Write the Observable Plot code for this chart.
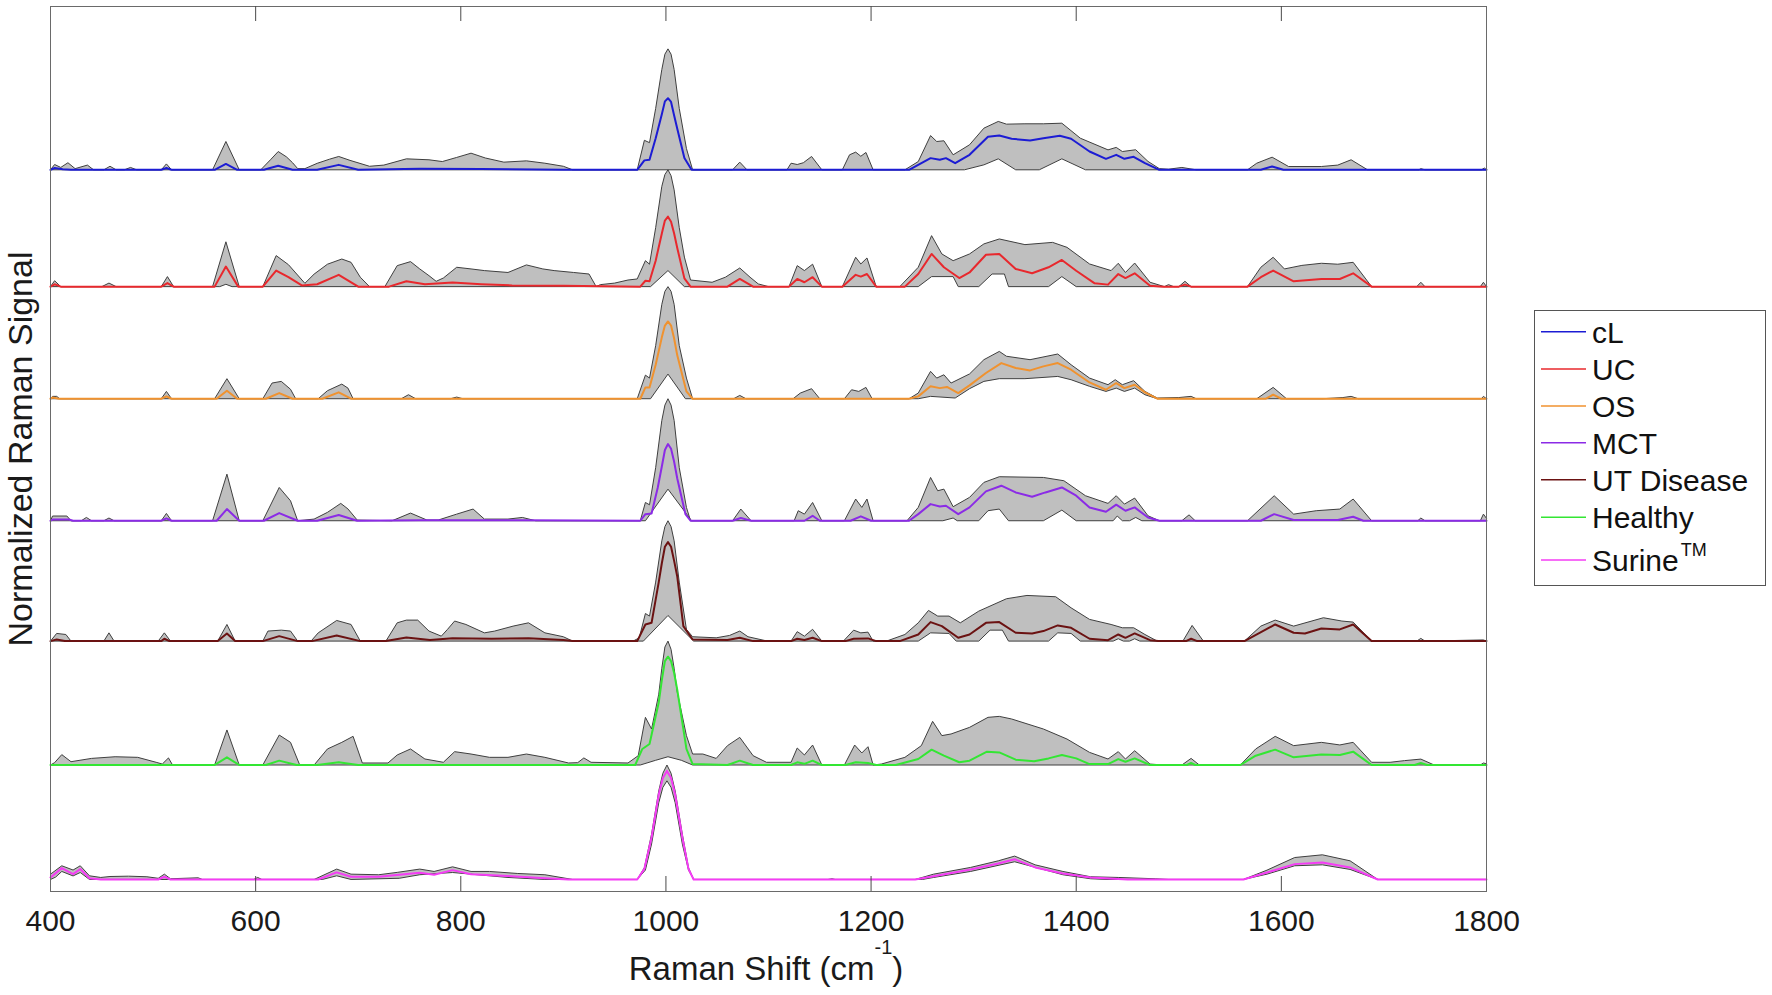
<!DOCTYPE html>
<html>
<head>
<meta charset="utf-8">
<script src="https://cdn.jsdelivr.net/npm/d3@7"></script>
<script src="https://cdn.jsdelivr.net/npm/@observablehq/plot@0.6"></script>
<style>
  body { margin: 0; background: #fff; }
  #wrap { position: relative; width: 1772px; height: 995px; font-family: "Liberation Sans", Arial, Helvetica, sans-serif; }
  #chart { position: absolute; left: 0; top: 0; }
  #legend { position: absolute; left: 1534px; top: 310px; }
</style>
</head>
<body>
<div id="wrap"><div id="chart"></div><div id="legend"></div></div>
<script>
// ---------- categories / styling lists ----------
const groups = ["cL", "UC", "OS", "MCT", "UT Disease", "Healthy", "Surine"];
const colors = ["#1c1cd4", "#e8282d", "#f0922f", "#8b2be6", "#6b1212", "#33e633", "#f53cf5"];
const stackOrder = ["Surine", "Healthy", "UT Disease", "MCT", "OS", "UC", "cL"]; // bottom -> top
const xTicks = [400, 600, 800, 1000, 1200, 1400, 1600, 1800];
const innerTicks = [600, 800, 1000, 1200, 1400, 1600];

// ---------- series values: [Raman shift, normalized signal] ----------
const cL_hi = [[400,0],[404,.045],[410,.02],[417,.06],[424,.01],[436,.04],[442,0],[452,0],[458,.03],[464,0],[472,0],[478,.02],[484,0],[508,0],[513,.05],[518,0],[558,0],[571,.24],[584,0],[605,0],[615,.09],[622,.155],[630,.11],[636,.06],[641,.01],[648,.01],[660,.055],[672,.09],[681,.113],[692,.08],[711,.03],[725,.04],[747,.093],[769,.085],[782,.07],[796,.105],[810,.141],[824,.1],[842,.065],[864,.076],[882,.056],[900,.03],[909,0],[972,0],[979,.25],[984,.23],[990,.52],[996,.85],[999,.98],[1002,1.025],[1005,.98],[1008,.85],[1013,.52],[1020,.18],[1026,0],[1065,0],[1072,.065],[1079,0],[1118,0],[1122,.056],[1128,.045],[1134,.06],[1142,.113],[1152,0],[1172,0],[1179,.127],[1185,.15],[1190,.115],[1195,.147],[1202,0],[1233,0],[1246,.07],[1258,.29],[1264,.24],[1271,.246],[1280,.127],[1296,.212],[1310,.353],[1324,.41],[1332,.387],[1350,.39],[1368,.39],[1386,.395],[1404,.268],[1431,.169],[1439,.19],[1445,.155],[1458,.17],[1470,.071],[1481,.01],[1490,.005],[1503,.02],[1510,.01],[1517,0],[1567,0],[1576,.056],[1591,.107],[1607,.028],[1639,.028],[1655,.04],[1668,.085],[1684,0],[1734,0],[1736,.01],[1740,0],[1795,0],[1798,.015],[1800,0]];
const cL_mean = [[400,0],[404,.015],[412,.005],[420,0],[508,0],[513,.015],[518,0],[560,0],[571,.05],[582,0],[608,0],[622,.034],[636,0],[660,0],[681,.042],[700,0],[760,.008],[820,.006],[900,0],[972,0],[979,.08],[984,.085],[990,.268],[996,.47],[999,.58],[1002,.607],[1005,.575],[1008,.46],[1011,.35],[1018,.1],[1025,0],[1237,0],[1258,.099],[1267,.085],[1273,.099],[1282,.056],[1296,.127],[1314,.28],[1325,.29],[1337,.263],[1355,.249],[1368,.268],[1384,.288],[1395,.263],[1413,.155],[1429,.093],[1439,.127],[1447,.093],[1456,.11],[1467,.056],[1481,0],[1580,0],[1591,.028],[1602,0],[1800,0]];
const cL_lo = [[400,0],[1291,0],[1310,.042],[1324,.093],[1341,0],[1364,0],[1386,.093],[1409,0],[1800,0]];

const UC_hi = [[400,0],[404,.05],[410,0],[450,0],[457,.03],[464,0],[508,0],[514,.085],[520,0],[558,0],[571,.38],[584,0],[607,0],[620,.263],[632,.186],[648,.028],[657,.106],[670,.19],[684,.234],[693,.206],[702,.08],[711,0],[726,0],[738,.178],[751,.212],[760,.15],[769,.093],[776,.045],[783,.073],[796,.164],[810,.15],[823,.136],[846,.12],[864,.184],[880,.15],[891,.136],[910,.12],[925,.107],[932,0],[936,.017],[950,.03],[963,.056],[972,.065],[980,.22],[984,.19],[990,.5],[996,.85],[999,.95],[1002,.99],[1005,.94],[1008,.82],[1013,.5],[1018,.25],[1024,.056],[1045,.037],[1058,.08],[1072,.158],[1082,.08],[1090,.023],[1100,0],[1120,0],[1128,.178],[1135,.136],[1143,.19],[1152,0],[1172,0],[1185,.249],[1190,.192],[1196,.243],[1205,0],[1228,0],[1246,.164],[1259,.432],[1269,.277],[1280,.22],[1296,.277],[1310,.362],[1325,.404],[1350,.356],[1377,.375],[1391,.333],[1413,.192],[1434,.136],[1441,.198],[1448,.12],[1457,.2],[1472,.037],[1486,0],[1490,.017],[1495,0],[1500,0],[1506,.045],[1512,0],[1567,0],[1580,.164],[1592,.249],[1603,.15],[1620,.18],[1639,.198],[1655,.19],[1670,.206],[1688,0],[1732,0],[1736,.037],[1740,0],[1794,0],[1797,.037],[1800,0]];
const UC_mean = [[400,0],[404,.02],[410,0],[508,0],[514,.03],[520,0],[560,0],[571,.17],[583,0],[607,0],[620,.136],[632,.08],[645,.01],[660,.02],[681,.1],[700,0],[730,0],[747,.045],[765,.02],[792,.034],[820,.02],[850,.01],[900,.008],[975,0],[980,.05],[984,.045],[990,.22],[996,.45],[999,.56],[1002,.593],[1005,.55],[1008,.45],[1011,.33],[1018,.07],[1024,0],[1060,0],[1072,.065],[1085,0],[1120,0],[1128,.065],[1135,.037],[1143,.08],[1152,0],[1172,0],[1185,.1],[1190,.085],[1196,.107],[1205,0],[1233,0],[1246,.107],[1259,.277],[1271,.164],[1286,.073],[1296,.12],[1312,.27],[1325,.277],[1341,.15],[1357,.113],[1373,.164],[1386,.226],[1400,.135],[1418,.028],[1431,.017],[1441,.107],[1448,.073],[1457,.113],[1472,.008],[1485,0],[1500,0],[1506,.017],[1512,0],[1567,0],[1580,.08],[1592,.136],[1612,.045],[1639,.065],[1657,.065],[1670,.113],[1688,0],[1800,0]];
const UC_lo = [[400,0],[565,0],[571,.02],[577,0],[985,0],[1002,.136],[1018,0],[1246,0],[1259,.085],[1280,.085],[1285,0],[1305,0],[1318,.107],[1330,.107],[1334,0],[1373,0],[1386,.085],[1400,0],[1800,0]];

const OS_hi = [[400,0],[402,.02],[406,.02],[409,0],[508,0],[513,.062],[518,0],[560,0],[572,.17],[584,0],[607,0],[616,.133],[625,.147],[634,.08],[639,0],[661,0],[670,.068],[684,.124],[690,.09],[695,0],[742,0],[749,.034],[756,0],[790,0],[796,.014],[802,0],[972,0],[980,.2],[984,.175],[990,.45],[996,.8],[999,.91],[1002,.95],[1005,.91],[1008,.8],[1013,.45],[1020,.175],[1026,0],[1066,0],[1072,.028],[1078,0],[1124,0],[1131,.048],[1142,.085],[1150,0],[1174,0],[1181,.076],[1188,.062],[1195,.096],[1201,0],[1237,0],[1246,.048],[1258,.232],[1264,.175],[1271,.203],[1278,.133],[1296,.21],[1310,.331],[1325,.401],[1332,.36],[1355,.331],[1382,.379],[1395,.288],[1413,.175],[1431,.119],[1438,.161],[1445,.119],[1456,.153],[1467,.062],[1479,.006],[1500,.01],[1512,.02],[1517,0],[1576,0],[1592,.096],[1605,0],[1640,0],[1660,.01],[1668,.02],[1675,0],[1795,0],[1797,.02],[1800,0]];
const OS_mean = [[400,0],[402,.01],[408,0],[508,0],[513,.02],[518,0],[562,0],[572,.068],[582,0],[610,0],[623,.048],[636,0],[665,0],[681,.054],[693,0],[975,0],[980,.096],[984,.096],[990,.288],[996,.52],[999,.62],[1002,.655],[1005,.62],[1008,.51],[1011,.37],[1020,.062],[1026,0],[1237,0],[1246,.02],[1258,.105],[1267,.09],[1274,.1],[1285,.048],[1296,.113],[1312,.218],[1327,.302],[1341,.26],[1355,.24],[1368,.274],[1382,.302],[1395,.246],[1413,.138],[1429,.076],[1439,.133],[1447,.09],[1457,.119],[1467,.054],[1479,0],[1585,0],[1592,.034],[1600,0],[1800,0]];
const OS_lo = [[400,0],[985,0],[1002,.209],[1019,0],[1246,0],[1258,.02],[1282,.006],[1296,.085],[1310,.147],[1325,.17],[1350,.17],[1382,.189],[1395,.161],[1413,.105],[1429,.062],[1439,.09],[1447,.062],[1457,.09],[1467,.034],[1479,0],[1800,0]];

const MCT_hi = [[400,0],[402,.04],[416,.04],[420,0],[430,0],[435,.028],[440,0],[452,0],[457,.023],[462,0],[508,0],[513,.062],[518,0],[558,0],[572,.395],[584,0],[607,0],[623,.282],[634,.169],[641,0],[657,.014],[670,.071],[683,.147],[690,.1],[699,.006],[733,0],[751,.065],[767,.006],[778,.006],[796,.056],[812,.099],[823,.014],[846,.014],[860,.028],[873,0],[975,0],[980,.155],[984,.135],[990,.45],[996,.85],[999,.98],[1002,1.034],[1005,.98],[1008,.85],[1013,.45],[1020,.113],[1024,0],[1065,0],[1073,.099],[1083,0],[1125,0],[1129,.085],[1135,.056],[1143,.155],[1152,0],[1174,0],[1185,.184],[1191,.113],[1196,.184],[1202,0],[1235,0],[1246,.113],[1258,.367],[1265,.254],[1271,.268],[1280,.119],[1296,.198],[1310,.325],[1325,.373],[1368,.367],[1388,.339],[1409,.212],[1431,.147],[1439,.212],[1447,.141],[1457,.192],[1470,.042],[1481,0],[1503,0],[1510,.05],[1516,0],[1567,0],[1593,.212],[1612,.056],[1634,.085],[1657,.099],[1670,.184],[1688,0],[1733,0],[1736,.023],[1740,0],[1794,0],[1797,.056],[1800,.02]];
const MCT_mean = [[400,0],[402,.01],[418,.01],[422,0],[508,0],[513,.02],[518,0],[562,0],[572,.099],[584,0],[608,0],[623,.065],[641,0],[660,0],[681,.048],[699,0],[760,.005],[860,.005],[975,0],[980,.056],[986,.062],[992,.28],[996,.46],[999,.6],[1002,.65],[1005,.61],[1008,.5],[1011,.36],[1019,.056],[1024,0],[1065,0],[1073,.023],[1083,0],[1135,0],[1143,.042],[1150,0],[1180,0],[1190,.037],[1200,0],[1237,0],[1246,.056],[1258,.141],[1267,.12],[1273,.127],[1285,.056],[1296,.113],[1312,.249],[1327,.297],[1341,.24],[1357,.203],[1370,.24],[1386,.282],[1400,.212],[1413,.113],[1429,.076],[1439,.136],[1448,.085],[1457,.113],[1470,.028],[1481,0],[1580,0],[1593,.056],[1612,.006],[1655,.006],[1670,.034],[1680,0],[1800,0]];
const MCT_lo = [[400,0],[980,0],[1002,.268],[1025,0],[1270,0],[1280,.023],[1284,0],[1305,0],[1314,.085],[1325,.099],[1334,0],[1368,0],[1386,.09],[1400,0],[1436,0],[1440,.04],[1445,0],[1452,0],[1458,.028],[1464,0],[1800,0]];

const UT_hi = [[400,0],[406,.065],[415,.056],[420,0],[452,0],[457,.07],[462,0],[505,0],[511,.07],[517,0],[563,0],[572,.141],[580,0],[607,0],[612,.085],[625,.093],[634,.085],[641,0],[654,0],[661,.07],[679,.175],[693,.141],[702,0],[727,0],[738,.155],[747,.178],[758,.178],[769,.085],[781,.042],[787,.099],[794,.17],[805,.141],[823,.07],[833,.085],[851,.127],[866,.155],[882,.07],[900,.037],[909,0],[968,0],[974,.028],[980,.234],[984,.212],[990,.5],[996,.85],[999,.97],[1002,1.02],[1005,.97],[1008,.85],[1013,.5],[1020,.099],[1026,.037],[1049,.028],[1062,.048],[1072,.085],[1080,.037],[1099,0],[1122,0],[1128,.08],[1135,.042],[1143,.1],[1152,0],[1173,0],[1183,.093],[1190,.07],[1197,.076],[1202,0],[1215,0],[1233,.056],[1246,.155],[1256,.26],[1265,.212],[1276,.212],[1287,.155],[1305,.254],[1332,.359],[1352,.387],[1380,.376],[1395,.282],[1413,.184],[1434,.141],[1445,.113],[1456,.113],[1467,.056],[1479,0],[1504,0],[1513,.133],[1524,0],[1564,0],[1580,.127],[1594,.178],[1612,.127],[1641,.198],[1659,.17],[1670,.161],[1688,0],[1732,0],[1736,.023],[1740,0],[1797,.01],[1800,0]];
const UT_mean = [[400,0],[406,.014],[414,0],[508,0],[511,.02],[516,0],[563,0],[572,.065],[580,0],[607,0],[623,.042],[641,0],[655,0],[679,.048],[702,0],[727,0],[747,.03],[770,.01],[792,.025],[830,.02],[866,.025],[900,.01],[909,0],[972,0],[980,.141],[986,.155],[993,.5],[996,.66],[999,.8],[1002,.839],[1005,.8],[1008,.68],[1011,.55],[1017,.127],[1026,.014],[1060,.01],[1072,.028],[1085,0],[1122,0],[1128,.02],[1135,.01],[1143,.028],[1152,0],[1175,0],[1183,.02],[1197,.023],[1205,0],[1228,0],[1246,.056],[1258,.161],[1269,.127],[1285,.028],[1296,.056],[1312,.155],[1325,.161],[1341,.071],[1357,.065],[1368,.085],[1382,.133],[1395,.113],[1413,.02],[1431,.008],[1441,.056],[1448,.028],[1457,.065],[1472,.008],[1480,0],[1507,0],[1512,.02],[1518,0],[1564,0],[1594,.141],[1612,.071],[1623,.065],[1639,.107],[1657,.099],[1670,.141],[1688,0],[1800,0]];
const UT_lo = [[400,0],[978,0],[1002,.217],[1027,0],[1246,0],[1258,.07],[1276,.065],[1283,0],[1305,0],[1316,.093],[1328,.093],[1334,0],[1373,0],[1382,.07],[1395,.065],[1404,0],[1436,0],[1441,.02],[1446,0],[1452,0],[1457,.02],[1462,0],[1800,0]];

const Healthy_hi = [[400,0],[404,.02],[411,.088],[420,.028],[440,.056],[463,.07],[485,.065],[503,.023],[509,.008],[515,.06],[519,0],[560,0],[572,.297],[584,0],[607,0],[623,.254],[634,.192],[643,0],[657,0],[670,.136],[684,.192],[695,.243],[704,.017],[729,.017],[738,.085],[751,.136],[765,.051],[783,.023],[794,.113],[810,.093],[828,.065],[846,.065],[864,.093],[882,.065],[905,.017],[914,.02],[920,.06],[927,.023],[963,.017],[973,.079],[980,.404],[986,.305],[993,.6],[996,.82],[999,1.0],[1002,1.05],[1005,.98],[1008,.82],[1011,.62],[1020,.249],[1026,.093],[1036,.093],[1049,.056],[1060,.164],[1072,.234],[1085,.079],[1098,.023],[1122,.023],[1128,.144],[1135,.085],[1143,.169],[1152,0],[1174,0],[1184,.169],[1191,.102],[1197,.155],[1202,0],[1210,.008],[1233,.065],[1249,.164],[1260,.37],[1269,.249],[1278,.263],[1296,.319],[1314,.404],[1325,.412],[1337,.39],[1368,.305],[1391,.22],[1413,.107],[1431,.051],[1441,.113],[1448,.051],[1457,.121],[1472,.008],[1485,0],[1503,0],[1512,.056],[1520,0],[1560,0],[1575,.136],[1594,.243],[1612,.164],[1639,.192],[1657,.17],[1670,.192],[1688,.023],[1706,.023],[1720,.037],[1736,.05],[1749,0],[1794,0],[1797,.017],[1800,.01]];
const Healthy_mean = [[400,0],[560,0],[572,.065],[584,0],[610,0],[623,.037],[640,0],[660,0],[681,.023],[700,0],[970,0],[977,.136],[984,.178],[993,.53],[996,.72],[999,.88],[1002,.918],[1005,.88],[1008,.78],[1011,.64],[1020,.136],[1026,.008],[1060,0],[1072,.037],[1085,0],[1122,0],[1128,.023],[1135,.01],[1143,.037],[1152,0],[1175,0],[1185,.023],[1197,.017],[1205,0],[1224,0],[1246,.051],[1259,.13],[1271,.079],[1286,.023],[1296,.037],[1313,.113],[1325,.107],[1341,.045],[1359,.031],[1373,.056],[1386,.085],[1400,.056],[1413,.008],[1431,.008],[1441,.05],[1448,.028],[1457,.056],[1472,0],[1508,0],[1512,.017],[1516,0],[1560,0],[1575,.079],[1594,.13],[1612,.065],[1639,.088],[1657,.085],[1670,.113],[1688,0],[1730,0],[1736,.017],[1742,0],[1800,0]];
const Healthy_lo = [[400,0],[975,0],[990,.04],[1002,.07],[1015,.04],[1026,0],[1800,0]];

const Surine_hi = [[400,.045],[411,.116],[422,.08],[429,.116],[438,.031],[449,.017],[458,.025],[476,.028],[494,.023],[505,.01],[511,.045],[517,.006],[544,.014],[548,0],[598,0],[602,.017],[606,0],[657,0],[679,.088],[693,.045],[720,.04],[738,.06],[760,.088],[774,.068],[792,.107],[810,.068],[828,.068],[855,.051],[882,.04],[909,0],[972,0],[979,.1],[986,.384],[993,.75],[997,.9],[1001,.97],[1005,.9],[1009,.75],[1016,.384],[1022,.1],[1027,0],[1158,0],[1162,.006],[1165,0],[1243,0],[1261,.045],[1297,.102],[1324,.158],[1340,.198],[1360,.124],[1387,.068],[1414,.023],[1441,.017],[1477,.006],[1490,0],[1563,0],[1586,.079],[1613,.186],[1640,.209],[1667,.158],[1694,0],[1800,0]];
const Surine_mean = [[400,.017],[411,.096],[422,.045],[429,.088],[438,.01],[449,0],[505,0],[511,.023],[517,0],[661,0],[679,.06],[693,.023],[720,.023],[760,.056],[774,.04],[792,.079],[810,.045],[846,.03],[882,.011],[905,0],[972,0],[979,.09],[986,.356],[993,.72],[997,.86],[1001,.92],[1005,.86],[1009,.72],[1016,.356],[1022,.09],[1027,0],[1243,0],[1261,.028],[1297,.085],[1324,.136],[1340,.172],[1360,.102],[1387,.051],[1414,.017],[1450,0],[1563,0],[1586,.059],[1613,.13],[1640,.144],[1667,.102],[1694,0],[1800,0]];
const Surine_lo = [[400,0],[405,.02],[411,.068],[422,.03],[429,.059],[438,0],[665,0],[679,.031],[693,0],[740,.01],[760,.04],[792,.059],[846,.017],[882,0],[972,0],[980,.08],[986,.3],[993,.65],[997,.78],[1001,.836],[1005,.78],[1009,.65],[1016,.3],[1022,.08],[1027,0],[1250,0],[1261,.017],[1297,.068],[1340,.15],[1387,.04],[1414,.006],[1430,0],[1563,0],[1586,.045],[1613,.116],[1640,.124],[1667,.085],[1694,0],[1800,0]];

// ---------- assemble tables for Plot ----------
const series = {
  "cL": [cL_lo, cL_mean, cL_hi],
  "UC": [UC_lo, UC_mean, UC_hi],
  "OS": [OS_lo, OS_mean, OS_hi],
  "MCT": [MCT_lo, MCT_mean, MCT_hi],
  "UT Disease": [UT_lo, UT_mean, UT_hi],
  "Healthy": [Healthy_lo, Healthy_mean, Healthy_hi],
  "Surine": [Surine_lo, Surine_mean, Surine_hi]
};
// each spectrum sits on top of the maximum of the one below it
const offsets = {};
let acc = 0;
for (const g of stackOrder) { offsets[g] = acc; acc += d3.max(series[g][2], d => d[1]); }

const polyRows = [], hiRows = [], loRows = [], meanRows = [];
for (const g of groups) {
  const [lo, mean, hi] = series[g];
  const o = offsets[g];
  hi.forEach(([x, v]) => { hiRows.push({g, x, y: o + v}); polyRows.push({g, x, y: o + v}); });
  lo.slice().reverse().forEach(([x, v]) => polyRows.push({g, x, y: o + v}));
  lo.forEach(([x, v]) => loRows.push({g, x, y: o + v}));
  mean.forEach(([x, v]) => meanRows.push({g, x, y: o + v}));
}

const yDomain = [-0.102, 7.398];
const font = '"Liberation Sans", Arial, Helvetica, sans-serif';

const chart = Plot.plot({
  width: 1500,
  height: 995,
  marginLeft: 50,
  marginRight: 14,
  marginTop: 6,
  marginBottom: 104,
  x: {domain: [400, 1800], axis: null},
  y: {domain: yDomain, axis: null},
  color: {domain: groups, range: colors},
  style: {fontFamily: font, background: "#fff", overflow: "visible"},
  marks: [
    Plot.line(polyRows, {x: "x", y: "y", z: "g", fill: "#bfbfbf", stroke: "none"}),
    Plot.line(hiRows, {x: "x", y: "y", z: "g", stroke: "#3f3f3f", strokeWidth: 1}),
    Plot.line(loRows, {x: "x", y: "y", z: "g", stroke: "#3f3f3f", strokeWidth: 1}),
    Plot.line(meanRows, {x: "x", y: "y", z: "g", stroke: "g", strokeWidth: 2}),
    Plot.frame({stroke: "#6a6a6a", strokeWidth: 1}),
    Plot.ruleX(innerTicks, {x: d => d, insetTop: 870, stroke: "#4a4a4a", strokeWidth: 1}),
    Plot.ruleX(innerTicks, {x: d => d, insetBottom: 870, stroke: "#4a4a4a", strokeWidth: 1}),
    Plot.text(xTicks, {x: d => d, text: d => String(d), frameAnchor: "bottom", dy: 39, lineAnchor: "bottom", fontSize: 30, fill: "#1a1a1a"}),
    Plot.text(["Normalized Raman Signal"], {text: d => d, frameAnchor: "left", textAnchor: "middle", rotate: -90, dx: -19, lineAnchor: "bottom", fontSize: 34, fill: "#1a1a1a"})
  ]
});
document.getElementById("chart").appendChild(chart);

// x-axis title with superscript
const xl = d3.select(chart).append("text")
  .attr("x", 766).attr("y", 980)
  .attr("text-anchor", "middle")
  .attr("font-family", font).attr("font-size", 33).attr("fill", "#1a1a1a");
xl.append("tspan").text("Raman Shift (cm");
xl.append("tspan").attr("font-size", 20).attr("dy", -26).text("-1");
xl.append("tspan").attr("dy", 26).text(")");

// ---------- legend (right of the plot) ----------
const legendRowY = [21.7, 59, 96, 132.7, 169.7, 207.3, 250];
const lg = d3.select("#legend").append("svg")
  .attr("width", 234).attr("height", 278)
  .style("font-family", font);
lg.append("rect").attr("x", 0.5).attr("y", 0.5).attr("width", 231).attr("height", 275)
  .attr("fill", "#fff").attr("stroke", "#555").attr("stroke-width", 1);
groups.forEach((g, i) => {
  const y = legendRowY[i];
  lg.append("line").attr("x1", 7).attr("x2", 52).attr("y1", y).attr("y2", y)
    .attr("stroke", colors[i]).attr("stroke-width", 1.5);
  const t = lg.append("text").attr("x", 58).attr("y", y + 10.8)
    .attr("font-size", 30).attr("fill", "#111");
  if (g === "Surine") {
    t.append("tspan").text("Surine");
    t.append("tspan").attr("font-size", 18).attr("dy", -15).attr("dx", 2).text("TM");
  } else {
    t.text(g);
  }
});
</script>
</body>
</html>
